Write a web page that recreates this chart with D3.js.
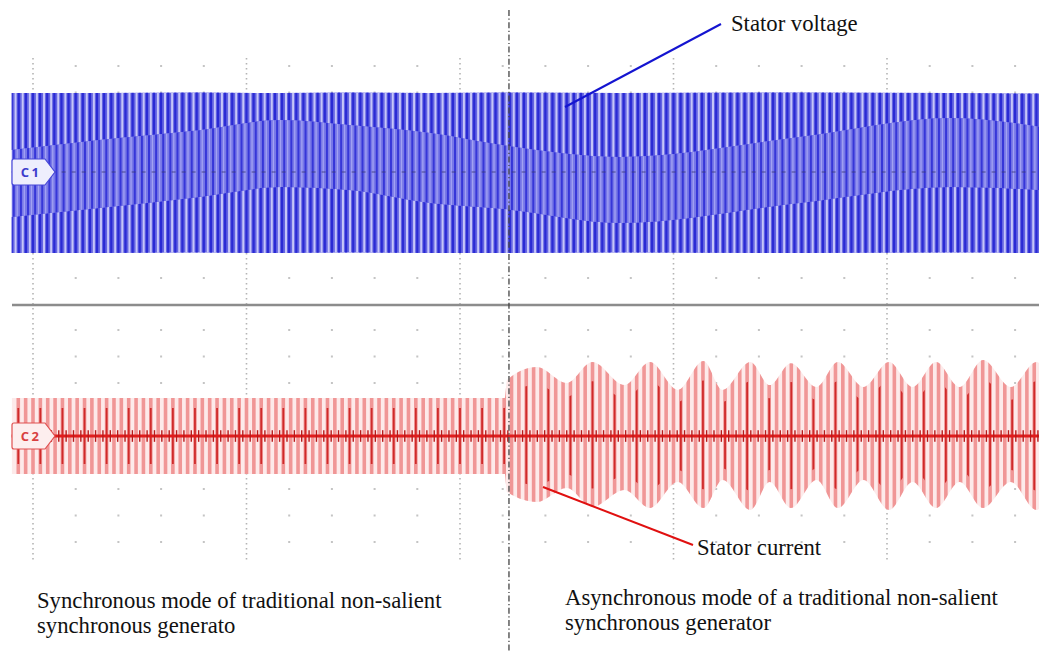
<!DOCTYPE html>
<html>
<head>
<meta charset="utf-8">
<script src="https://cdn.jsdelivr.net/npm/d3@7"></script>
<style>
  html, body { margin: 0; padding: 0; background: #fff; }
  svg { display: block; }
  .note { font-family: "Liberation Serif", "Times New Roman", serif; font-size: 22.7px; fill: #111; }
</style>
</head>
<body>
<div id="chart"></div>
<script>
// time in screen divisions, amplitude in vertical divisions
const voltTime        = [-0.1, 0.31, 0.78, 1.16, 1.48, 1.86, 2.21, 2.75, 3.59, 4.30, 4.72];
const voltOuterTop    = [2.98, 2.98, 3.00, 2.98, 3.00, 2.98, 3.00, 2.98, 3.00, 2.98, 2.96];
const voltOuterBottom = [-3.06, -3.06, -3.04, -3.06, -3.04, -3.06, -3.06, -3.04, -3.06, -3.04, -3.06];
const voltInnerTop    = [0.83, 1.21, 1.58, 1.96, 1.77, 1.47, 1.00, 0.57, 1.32, 2.04, 1.70];
const voltInnerBottom = [-1.70, -1.36, -0.94, -0.57, -0.68, -1.17, -1.40, -1.92, -1.17, -0.57, -0.68];

const curTime   = [-0.1, 0.5, 1.0, 1.5, 2.0, 2.21, 2.22, 2.36, 2.50, 2.62, 2.77, 2.89, 3.02, 3.14, 3.23,
                   3.36, 3.45, 3.55, 3.67, 3.77, 3.89, 4.01, 4.12, 4.23, 4.34, 4.45, 4.58, 4.70, 4.72];
const curTop    = [1.43, 1.43, 1.43, 1.43, 1.43, 1.43, 2.11, 2.60, 2.00, 2.79, 1.92, 2.79, 1.74, 2.83, 1.74,
                   2.79, 1.92, 2.75, 1.85, 2.79, 1.85, 2.79, 1.85, 2.79, 1.85, 2.87, 1.85, 2.79, 2.70];
const curBottom = [-1.43, -1.43, -1.43, -1.43, -1.43, -1.43, -2.11, -2.49, -1.96, -2.68, -2.04, -2.72, -1.74, -2.72, -1.66,
                   -2.79, -1.74, -2.72, -1.66, -2.72, -1.66, -2.79, -1.74, -2.72, -1.74, -2.72, -1.74, -2.79, -2.70];

const voltCyclesPerDiv = 30;
const curCyclesPerDiv = 29;
const timeStart = -0.1, timeEnd = 4.72;
const switchTime = 2.22;   // dash-dot line: start of asynchronous mode

const width = 1039, height = 653;

const svg = d3.select("#chart").append("svg")
  .attr("width", width)
  .attr("height", height);

const x = d3.scaleLinear().domain([0, 4]).range([33, 887]);
const yV = d3.scaleLinear().domain([-4, 4]).range([278, 66]);
const yC = d3.scaleLinear().domain([-4, 4]).range([542, 330]);
// shorter dark strokes of the current trace
const yCin = d3.scaleLinear().domain([-4, 4]).range([436 + 106 * 0.74, 436 - 106 * 0.74]);

const defs = svg.append("defs");

const band = (t, top, bot, ys) => d3.area()
  .x((d, i) => x(t[i]))
  .y0((d, i) => ys(bot[i]))
  .y1((d, i) => ys(top[i]))
  .curve(d3.curveMonotoneX)(t);

function clip(id, paths) {
  const c = defs.append("clipPath").attr("id", id);
  paths.forEach(p => c.append("path").attr("d", p));
}

clip("vEnv", [band(voltTime, voltOuterTop, voltOuterBottom, yV)]);
clip("vOut", [band(voltTime, voltOuterTop, voltInnerTop, yV), band(voltTime, voltInnerBottom, voltOuterBottom, yV)]);
clip("vIn", [band(voltTime, voltInnerTop, voltInnerBottom, yV)]);
clip("cEnv", [band(curTime, curTop, curBottom, yC)]);
clip("cIn", [band(curTime, curTop, curBottom, yCin)]);

// ---- grid ----
const grid = svg.append("g");
const notMajor = d => Math.abs(d - Math.round(d)) > 1e-6;
const minorCols = d3.range(0, 24).map(i => i / 5).filter(d => x(d) < width && notMajor(d));
const rows = d3.range(-4, 5);
[yV, yC].forEach(ys => {
  rows.forEach(r => {
    grid.selectAll(null).data(minorCols).enter().append("rect")
      .attr("x", d => x(d) - 1).attr("y", ys(r) - 1)
      .attr("width", 2).attr("height", 2)
      .attr("fill", "#c4c4c4");
  });
});
grid.selectAll(".major").data(d3.range(0, 5)).enter().append("line")
  .attr("x1", d => x(d)).attr("x2", d => x(d))
  .attr("y1", 58).attr("y2", 560)
  .attr("stroke", "#b4b4b4").attr("stroke-width", 1.6)
  .attr("stroke-dasharray", "1.5,3.5");

// separator between the two channels
svg.append("line")
  .attr("x1", 12).attr("x2", width).attr("y1", 305).attr("y2", 305)
  .attr("stroke", "#8c8c8c").attr("stroke-width", 2.5);

// ---- voltage trace (C1) ----
const vCycles = d3.range(Math.ceil(timeStart * voltCyclesPerDiv), Math.floor(timeEnd * voltCyclesPerDiv) + 1)
  .map(i => i / voltCyclesPerDiv);
const vp = x(1 / voltCyclesPerDiv) - x(0);
const full = (g, fill) => g.append("rect")
  .attr("x", x(timeStart)).attr("y", yV(4)).attr("width", x(timeEnd) - x(timeStart)).attr("height", yV(-4) - yV(4))
  .attr("fill", fill);

const gV = svg.append("g");
full(gV.append("g").attr("clip-path", "url(#vEnv)"), "#6464e2");

const vOut = gV.append("g").attr("clip-path", "url(#vOut)");
vOut.selectAll(".lt").data(vCycles).enter().append("line")
  .attr("x1", d => x(d) + vp * 0.55).attr("x2", d => x(d) + vp * 0.55)
  .attr("y1", yV(4)).attr("y2", yV(-4))
  .attr("stroke", "#c6c6f8").attr("stroke-width", 2);
vOut.selectAll(".dk").data(vCycles).enter().append("line")
  .attr("x1", d => x(d)).attr("x2", d => x(d))
  .attr("y1", yV(4)).attr("y2", yV(-4))
  .attr("stroke", "#2a2ad4").attr("stroke-width", 2.2);

const vIn = gV.append("g").attr("clip-path", "url(#vIn)");
full(vIn, "#7878e8");
vIn.selectAll(".lt").data(vCycles).enter().append("line")
  .attr("x1", d => x(d) + vp * 0.78).attr("x2", d => x(d) + vp * 0.78)
  .attr("y1", yV(4)).attr("y2", yV(-4))
  .attr("stroke", "#a2a2f2").attr("stroke-width", 1.3);
vIn.selectAll(".dk").data(vCycles).enter().append("line")
  .attr("x1", d => x(d) + vp * 0.3).attr("x2", d => x(d) + vp * 0.3)
  .attr("y1", yV(4)).attr("y2", yV(-4))
  .attr("stroke", "#3636d8").attr("stroke-width", 2);

gV.append("line")
  .attr("x1", x(timeStart)).attr("x2", x(timeEnd)).attr("y1", yV(0)).attr("y2", yV(0))
  .attr("stroke", "#3c3c7a").attr("stroke-opacity", 0.55).attr("stroke-width", 1.3)
  .attr("stroke-dasharray", "4,6");

// ---- current trace (C2) ----
const cCycles = d3.range(Math.ceil(timeStart * curCyclesPerDiv), Math.floor(timeEnd * curCyclesPerDiv) + 1)
  .map(i => i / curCyclesPerDiv);
const cp = x(1 / curCyclesPerDiv) - x(0);

const gC = svg.append("g");
const cEnv = gC.append("g").attr("clip-path", "url(#cEnv)");
cEnv.append("rect")
  .attr("x", x(timeStart)).attr("y", yC(4)).attr("width", x(timeEnd) - x(timeStart)).attr("height", yC(-4) - yC(4))
  .attr("fill", "#fdeaea");
cEnv.selectAll(".lt").data(cCycles).enter().append("line")
  .attr("x1", d => x(d)).attr("x2", d => x(d))
  .attr("y1", yC(4)).attr("y2", yC(-4))
  .attr("stroke", "#f09696").attr("stroke-width", 3.6);

const cIn = gC.append("g").attr("clip-path", "url(#cIn)");
cIn.selectAll(".dk").data(cCycles.filter((d, i) => i % 3 === 0)).enter().append("line")
  .attr("x1", d => x(d)).attr("x2", d => x(d))
  .attr("y1", yC(4)).attr("y2", yC(-4))
  .attr("stroke", "#cf2a2a").attr("stroke-width", 1.8);

gC.append("line")
  .attr("x1", x(timeStart)).attr("x2", x(timeEnd)).attr("y1", yC(0)).attr("y2", yC(0))
  .attr("stroke", "#e01c1c").attr("stroke-width", 3);
gC.selectAll(".tick").data(cCycles).enter().append("line")
  .attr("x1", d => x(d) + cp * 0.5).attr("x2", d => x(d) + cp * 0.5)
  .attr("y1", yC(0.22)).attr("y2", yC(-0.22))
  .attr("stroke", "#b81a1a").attr("stroke-width", 1.4);

// ---- channel tags ----
function tag(yc, label, stroke, fill, color) {
  const g = svg.append("g").attr("transform", `translate(12,${yc})`);
  g.append("path")
    .attr("d", "M2,-13 H33 L43,0 L33,13 H2 Q0,13 0,11 V-11 Q0,-13 2,-13 Z")
    .attr("fill", fill).attr("stroke", stroke).attr("stroke-width", 1.2);
  g.append("text").attr("x", 19).attr("y", 5)
    .attr("text-anchor", "middle")
    .attr("font-family", "Open Sans, sans-serif").attr("font-size", 13).attr("font-weight", 700)
    .attr("letter-spacing", 2.5)
    .attr("fill", color).text(label);
}
tag(yV(0), "C1", "#4848d8", "#eeeefd", "#3c3ccc");
tag(yC(0), "C2", "#e05050", "#fdeeee", "#d84040");

// ---- divider between the two modes ----
svg.append("line")
  .attr("x1", x(switchTime) + 2).attr("x2", x(switchTime) + 2).attr("y1", 10).attr("y2", height)
  .attr("stroke", "#444").attr("stroke-width", 1.3)
  .attr("stroke-dasharray", "6,2.5,1.2,2.5");

// ---- annotations ----
svg.append("line").attr("x1", 721).attr("y1", 24).attr("x2", 565).attr("y2", 107)
  .attr("stroke", "#1414d0").attr("stroke-width", 2);
svg.append("text").attr("class", "note").attr("x", 731).attr("y", 31).text("Stator voltage");

svg.append("line").attr("x1", 543).attr("y1", 487).attr("x2", 693).attr("y2", 545)
  .attr("stroke", "#e01010").attr("stroke-width", 2);
svg.append("text").attr("class", "note").attr("x", 697).attr("y", 555).text("Stator current");

const leftNote = svg.append("text").attr("class", "note").attr("x", 37).attr("y", 608);
leftNote.append("tspan").attr("x", 37).text("Synchronous mode of traditional non-salient");
leftNote.append("tspan").attr("x", 37).attr("dy", 25).text("synchronous generato");

const rightNote = svg.append("text").attr("class", "note").attr("x", 565).attr("y", 605);
rightNote.append("tspan").attr("x", 565).text("Asynchronous mode of a traditional non-salient");
rightNote.append("tspan").attr("x", 565).attr("dy", 25).text("synchronous generator");
</script>
</body>
</html>
